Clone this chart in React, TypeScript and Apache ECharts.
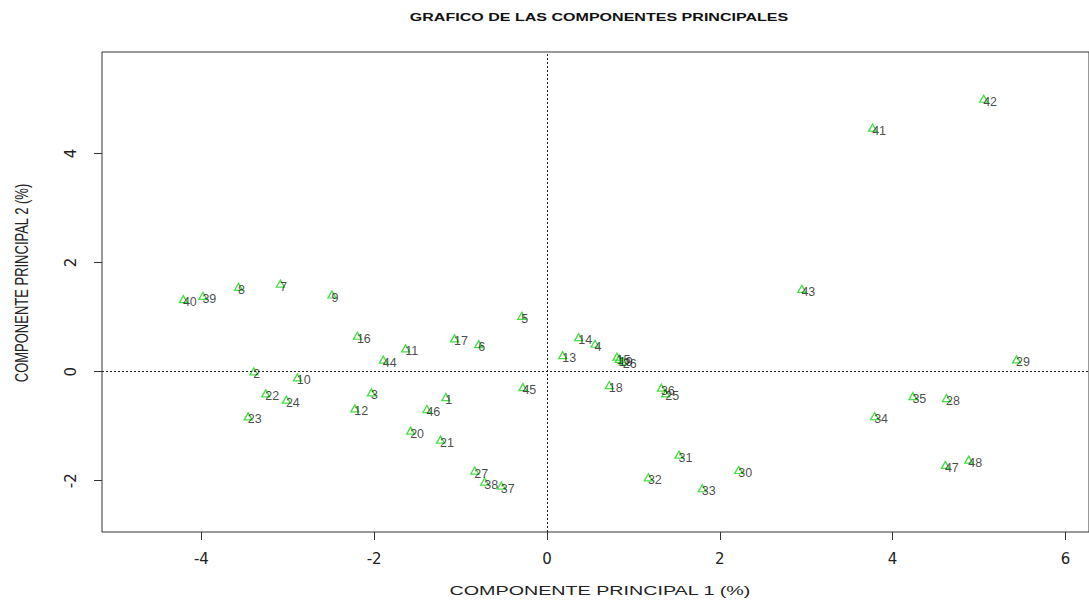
import React, { useEffect, useRef } from "react";
import * as echarts from "echarts";

// Observation numbers (1..48)
const ids: number[] = Array.from({ length: 48 }, (_, i) => i + 1);

// Scores on the first principal component, in id order
const pc1: number[] = [
  -1.171, -3.393, -2.032, 0.556, -0.291, -0.79, -3.085, -3.57, -2.489, -2.889,
  -1.636, -2.224, 0.182, 0.367, 0.81, -2.194, -1.07, 0.721, 0.836, -1.578,
  -1.232, -3.255, -3.458, -3.016, 1.375, 0.882, -0.836, 4.623, 5.435, 2.22,
  1.528, 1.174, 1.797, 3.792, 4.235, 1.324, -0.528, -0.721, -3.982, -4.208,
  3.769, 5.054, 2.95, -1.894, -0.279, -1.39, 4.611, 4.881,
];

// Scores on the second principal component, in id order
const pc2: number[] = [
  -0.467, 0.004, -0.381, 0.511, 1.024, 0.504, 1.615, 1.555, 1.414, -0.106,
  0.425, -0.674, 0.302, 0.632, 0.273, 0.658, 0.608, -0.247, 0.232, -1.082,
  -1.247, -0.399, -0.821, -0.515, -0.399, 0.187, -1.815, -0.485, 0.223, -1.804,
  -1.522, -1.938, -2.139, -0.815, -0.449, -0.295, -2.09, -2.016, 1.39, 1.328,
  4.473, 5.004, 1.518, 0.218, -0.284, -0.687, -1.712, -1.614,
];

const xTicks: number[] = [-4, -2, 0, 2, 4, 6];
const yTicks: number[] = [-2, 0, 2, 4];

const titleText = "GRAFICO DE LAS COMPONENTES PRINCIPALES";
const xTitle = "COMPONENTE PRINCIPAL 1 (%)";
const yTitle = "COMPONENTE PRINCIPAL 2 (%)";

const SANS = "'Liberation Sans', Arial, sans-serif";
const WIDE = 1.46; // horizontal stretch of the titles

export default function App() {
  const ref = useRef<HTMLDivElement>(null);

  useEffect(() => {
    document.body.style.margin = "0";
    if (!ref.current) return;
    const chart = echarts.init(ref.current, undefined, { renderer: "svg" });

    const points = ids.map((id, i) => ({ value: [pc1[i], pc2[i]], name: String(id) }));

    chart.setOption({
      animation: false,
      backgroundColor: "#ffffff",
      grid: {
        left: 102,
        top: 52,
        width: 990,
        height: 480,
        show: true,
        borderColor: "#333",
        borderWidth: 1,
        backgroundColor: "transparent",
      },
      xAxis: {
        type: "value",
        min: -5.15,
        max: 6.273,
        axisLine: { show: false, onZero: false },
        axisTick: {
          show: true,
          length: 8,
          customValues: xTicks,
          lineStyle: { color: "#333", width: 1 },
        },
        axisLabel: {
          customValues: xTicks,
          margin: 19,
          fontFamily: "'DejaVu Sans', sans-serif",
          fontSize: 15,
          color: "#222",
        },
        splitLine: { show: false },
      },
      yAxis: {
        type: "value",
        min: -2.941,
        max: 5.861,
        axisLine: { show: false, onZero: false },
        axisTick: {
          show: true,
          length: 8,
          customValues: yTicks,
          lineStyle: { color: "#333", width: 1 },
        },
        axisLabel: {
          customValues: yTicks,
          rotate: 90,
          margin: 24,
          fontFamily: "'DejaVu Sans', sans-serif",
          fontSize: 15,
          color: "#222",
        },
        splitLine: { show: false },
      },
      series: [
        {
          type: "scatter",
          data: points,
          symbol: "triangle",
          symbolSize: [8, 7],
          itemStyle: {
            color: "rgba(0,0,0,0)",
            borderColor: "#14d814",
            borderWidth: 1.3,
          },
          label: {
            show: true,
            position: "inside",
            align: "left",
            verticalAlign: "middle",
            offset: [-0.5, 3],
            formatter: (p: any) => p.name,
            fontFamily: SANS,
            fontSize: 12.5,
            color: "#1a1a1a",
          },
          markLine: {
            silent: true,
            symbol: ["none", "none"],
            label: { show: false },
            lineStyle: { type: [2, 2], color: "#222", width: 1 },
            data: [{ xAxis: 0 }, { yAxis: 0 }],
          },
        },
      ],
      graphic: [
        {
          type: "text",
          x: 599,
          y: 17,
          scaleX: WIDE,
          style: {
            text: titleText,
            fontFamily: SANS,
            fontWeight: "bold",
            fontSize: 11,
            fill: "#111",
            textAlign: "center",
            textVerticalAlign: "middle",
          },
        },
        {
          type: "text",
          x: 600,
          y: 591,
          scaleX: WIDE,
          style: {
            text: xTitle,
            fontFamily: SANS,
            fontSize: 13.5,
            fill: "#222",
            textAlign: "center",
            textVerticalAlign: "middle",
          },
        },
        {
          type: "text",
          x: 21,
          y: 283,
          rotation: Math.PI / 2,
          scaleY: WIDE,
          style: {
            text: yTitle,
            fontFamily: SANS,
            fontSize: 13,
            fill: "#222",
            textAlign: "center",
            textVerticalAlign: "middle",
          },
        },
      ],
    });

    return () => chart.dispose();
  }, []);

  return <div ref={ref} style={{ width: 1089, height: 604 }} />;
}
